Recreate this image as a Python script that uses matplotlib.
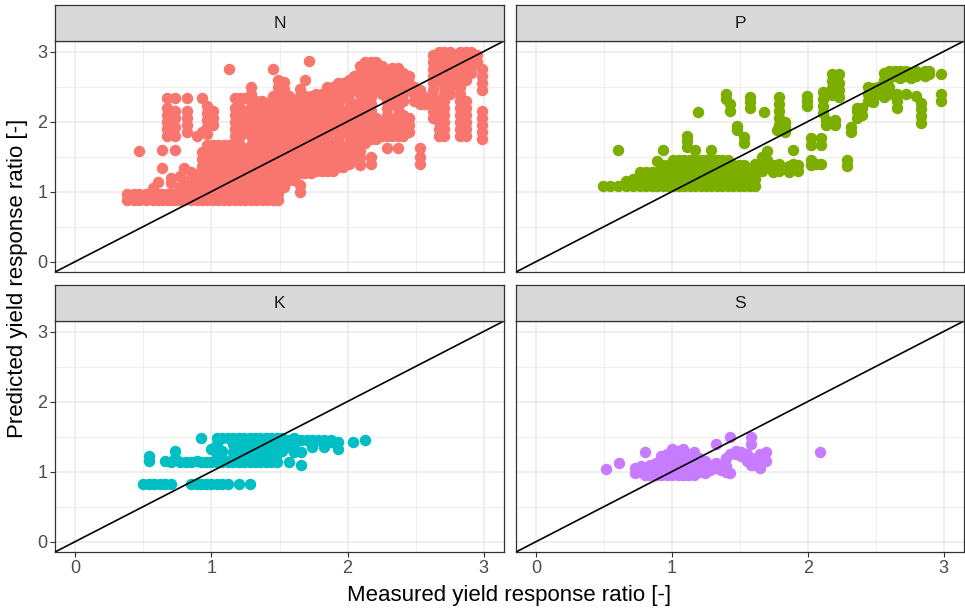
import matplotlib
matplotlib.use("Agg")
import matplotlib.pyplot as plt

plt.rcParams['font.family'] = ['Liberation Sans', 'DejaVu Sans']

panels = ["N", "P", "K", "S"]
colors = ["#F8766D", "#7CAE00", "#00BFC4", "#C77CFF"]
ticks = [0, 1, 2, 3]
tick_labels = ["0", "1", "2", "3"]
x_title = "Measured yield response ratio [-]"
y_title = "Predicted yield response ratio [-]"

# ---- N panel: measured (x) columns and predicted (y) values ----
N_x = [0.38, 0.43, 0.47, 0.52, 0.57, 0.61, 0.64, 0.67, 0.70, 0.73, 0.77, 0.80, 0.82, 0.85, 0.89,
       0.93, 0.97, 1.01, 1.05, 1.09, 1.13, 1.17, 1.21, 1.25, 1.29, 1.33, 1.37, 1.41, 1.45, 1.49,
       1.53, 1.57, 1.61, 1.65, 1.69, 1.72, 1.73, 1.77, 1.81, 1.85, 1.89, 1.93, 1.97, 2.01, 2.05,
       2.09, 2.13, 2.17, 2.21, 2.25, 2.29, 2.33, 2.37, 2.41, 2.45, 2.49, 2.53, 2.57, 2.63, 2.67,
       2.71, 2.75, 2.79, 2.83, 2.87, 2.91, 2.95, 2.99]
N_y = [
    [0.88, 0.97],
    [0.88, 0.97],
    [0.88, 0.97, 1.58],
    [0.88, 0.97],
    [0.88, 0.97, 1.05],
    [0.88, 0.97, 1.13],
    [0.88, 0.97, 1.33, 1.60],
    [0.88, 0.97, 1.80, 1.90, 2.00, 2.10, 2.20, 2.33],
    [0.88, 0.97, 1.12, 1.20],
    [0.88, 0.97, 1.60, 1.80, 1.92, 2.05, 2.15, 2.33],
    [0.88, 0.97, 1.07, 1.22],
    [0.88, 0.97, 1.13, 1.33],
    [1.85, 1.95, 2.05, 2.15, 2.33],
    [0.88, 0.97, 1.07, 1.18, 1.28],
    [0.88, 0.97, 1.05, 1.15, 1.25, 1.80],
    [0.88, 0.97, 1.07, 1.17, 1.27, 1.37, 1.47, 1.57, 1.85, 2.33],
    [0.88, 0.97, 1.07, 1.17, 1.27, 1.37, 1.47, 1.57, 1.66, 1.82, 1.92, 2.02, 2.12, 2.22],
    [0.88, 0.97, 1.07, 1.17, 1.27, 1.37, 1.47, 1.57, 1.66, 1.95, 2.05, 2.15],
    [0.88, 0.97, 1.07, 1.17, 1.27, 1.37, 1.47, 1.57, 1.66],
    [0.88, 0.97, 1.07, 1.17, 1.27, 1.37, 1.47, 1.57, 1.66],
    [0.88, 0.97, 1.07, 1.17, 1.27, 1.37, 1.47, 1.57, 1.66, 2.75],
    [0.88, 0.97, 1.07, 1.17, 1.27, 1.37, 1.47, 1.57, 1.66, 1.80, 1.90, 2.00, 2.10, 2.20, 2.33],
    [0.88, 0.97, 1.07, 1.17, 1.27, 1.37, 1.47, 1.57, 1.66, 1.80, 1.90, 2.00, 2.10, 2.20, 2.33],
    [0.88, 0.97, 1.07, 1.17, 1.27, 1.37, 1.47, 1.57, 1.85, 1.95, 2.05, 2.15, 2.33],
    [0.88, 0.97, 1.07, 1.17, 1.27, 1.37, 1.47, 1.57, 1.66, 1.80, 1.90, 2.00, 2.10, 2.20, 2.30, 2.40, 2.50],
    [0.88, 0.97, 1.07, 1.17, 1.27, 1.37, 1.47, 1.57, 1.66, 1.80, 1.90, 2.00, 2.10, 2.20, 2.30],
    [0.88, 0.97, 1.07, 1.17, 1.27, 1.37, 1.47, 1.57, 1.66, 1.80, 1.90, 2.00, 2.10, 2.20, 2.30],
    [0.88, 0.97, 1.07, 1.17, 1.27, 1.37, 1.47, 1.57, 1.66, 1.76, 1.86, 1.96, 2.06, 2.16, 2.26],
    [0.88, 0.97, 1.07, 1.17, 1.27, 1.37, 1.47, 1.57, 1.66, 1.76, 1.86, 1.96, 2.06, 2.16, 2.26, 2.36, 2.75],
    [0.88, 0.97, 1.07, 1.17, 1.27, 1.37, 1.47, 1.57, 1.66, 1.80, 1.90, 2.00, 2.10, 2.20, 2.30, 2.40, 2.50, 2.60],
    [1.07, 1.17, 1.27, 1.37, 1.47, 1.57, 1.66, 1.76, 1.86, 1.96, 2.06, 2.16, 2.26, 2.36, 2.46, 2.56],
    [1.17, 1.27, 1.37, 1.47, 1.57, 1.66, 1.76, 1.86, 1.96, 2.06, 2.16, 2.26, 2.36],
    [1.17, 1.27, 1.37, 1.47, 1.57, 1.66, 1.76, 1.86, 1.96, 2.06, 2.16, 2.26],
    [1.00, 1.10, 1.27, 1.37, 1.47, 1.57, 1.66, 1.76, 1.86, 1.96, 2.06, 2.16, 2.26, 2.36, 2.46],
    [1.27, 1.37, 1.47, 1.57, 1.66, 1.76, 1.86, 1.96, 2.06, 2.16, 2.26, 2.36, 2.60],
    [2.87],
    [1.27, 1.37, 1.47, 1.57, 1.66, 1.76, 1.86, 1.96, 2.06, 2.16, 2.26, 2.36],
    [1.30, 1.40, 1.50, 1.60, 1.70, 1.80, 1.90, 2.00, 2.10, 2.20, 2.30, 2.40],
    [1.30, 1.40, 1.50, 1.60, 1.80, 1.90, 2.00, 2.10, 2.20, 2.30, 2.40],
    [1.30, 1.40, 1.50, 1.60, 1.70, 1.80, 1.90, 2.00, 2.20, 2.30, 2.40, 2.50],
    [1.30, 1.40, 1.50, 1.60, 1.70, 1.90, 2.00, 2.10, 2.20, 2.30, 2.40, 2.50],
    [1.35, 1.45, 1.55, 1.65, 1.75, 1.85, 1.95, 2.05, 2.15, 2.25, 2.35, 2.45, 2.55],
    [1.35, 1.45, 1.55, 1.65, 1.85, 1.95, 2.05, 2.15, 2.35, 2.45, 2.55],
    [1.40, 1.50, 1.60, 1.70, 1.80, 1.90, 2.00, 2.10, 2.20, 2.30, 2.40, 2.50, 2.60],
    [1.45, 1.55, 1.65, 1.75, 1.85, 1.95, 2.05, 2.15, 2.25, 2.45, 2.55, 2.65],
    [1.38, 1.48, 1.58, 1.70, 1.80, 1.90, 2.00, 2.10, 2.20, 2.30, 2.40, 2.50, 2.60, 2.70, 2.80],
    [1.70, 1.80, 1.90, 2.00, 2.10, 2.20, 2.30, 2.40, 2.50, 2.60, 2.70, 2.85],
    [1.40, 1.50, 1.75, 1.85, 1.95, 2.05, 2.15, 2.25, 2.35, 2.45, 2.55, 2.65, 2.75, 2.85],
    [1.75, 1.85, 1.95, 2.05, 2.45, 2.55, 2.65, 2.75, 2.85],
    [1.80, 1.90, 2.00, 2.40, 2.50, 2.60, 2.70, 2.80],
    [1.62, 1.80, 1.90, 2.00, 2.10, 2.20, 2.30, 2.50, 2.60],
    [1.80, 1.90, 2.00, 2.30, 2.40, 2.50, 2.60, 2.70, 2.76],
    [1.62, 1.80, 1.90, 2.10, 2.20, 2.40, 2.50, 2.60, 2.70, 2.76],
    [1.80, 1.90, 2.00, 2.10, 2.30, 2.40, 2.50, 2.60, 2.70],
    [1.85, 1.95, 2.05, 2.45, 2.55, 2.65],
    [2.30, 2.40, 2.50],
    [1.40, 1.50, 1.62, 2.25, 2.35, 2.45],
    [2.25, 2.35],
    [2.05, 2.15, 2.25, 2.35, 2.45, 2.55, 2.65, 2.75, 2.85, 2.95],
    [1.80, 1.90, 2.00, 2.10, 2.20, 2.30, 2.60, 2.70, 2.80, 2.90, 3.00],
    [1.80, 1.90, 2.00, 2.10, 2.20, 2.30, 2.40, 2.50, 2.60, 2.70, 2.80, 2.90, 3.00],
    [2.40, 2.50, 2.60, 2.70, 2.80, 2.90, 3.00],
    [2.55, 2.65, 2.75, 2.85, 2.95],
    [1.80, 1.90, 2.00, 2.10, 2.20, 2.30, 2.40, 2.50, 2.60, 2.70, 2.80, 2.90, 3.00],
    [1.80, 1.90, 2.00, 2.10, 2.20, 2.30, 2.60, 2.70, 2.80, 2.90, 3.00],
    [2.70, 2.80, 2.90, 3.00],
    [2.85, 2.95],
    [1.75, 1.85, 1.95, 2.05, 2.15, 2.45, 2.55, 2.65, 2.75],
]

# ---- P panel ----
P_x = [0.49, 0.54, 0.60, 0.66, 0.71, 0.76, 0.81, 0.85, 0.89, 0.93, 0.97, 1.01, 1.05, 1.09, 1.11,
       1.13, 1.17, 1.19, 1.21, 1.25, 1.29, 1.33, 1.37, 1.40, 1.41, 1.43, 1.45, 1.48, 1.49, 1.53,
       1.57, 1.61, 1.66, 1.68, 1.70, 1.74, 1.77, 1.79, 1.83, 1.86, 1.89, 1.93, 1.99, 2.02, 2.06,
       2.10, 2.11, 2.13, 2.18, 2.20, 2.23, 2.29, 2.32, 2.36, 2.40, 2.44, 2.48, 2.52, 2.56, 2.60,
       2.64, 2.66, 2.68, 2.72, 2.76, 2.80, 2.83, 2.86, 2.89, 2.98]
P_y = [
    [1.08], [1.08], [1.08, 1.60], [1.08, 1.15], [1.08, 1.18], [1.08, 1.18, 1.28],
    [1.08, 1.18, 1.28], [1.08, 1.18, 1.28], [1.08, 1.18, 1.28, 1.43],
    [1.08, 1.18, 1.28, 1.38, 1.60], [1.08, 1.18, 1.28, 1.38], [1.08, 1.18, 1.28, 1.38, 1.45],
    [1.08, 1.18, 1.28, 1.38, 1.45], [1.08, 1.18, 1.28, 1.38, 1.45], [1.64, 1.72, 1.79],
    [1.08, 1.18, 1.28, 1.38, 1.45], [1.08, 1.18, 1.28, 1.38, 1.45, 1.60], [2.14],
    [1.08, 1.18, 1.28, 1.38, 1.45], [1.08, 1.18, 1.28, 1.38, 1.45],
    [1.08, 1.18, 1.28, 1.38, 1.45, 1.60], [1.08, 1.18, 1.28, 1.38, 1.45],
    [1.08, 1.18, 1.28, 1.38, 1.45], [2.32, 2.40], [1.08, 1.18, 1.28, 1.38, 1.45],
    [2.15, 2.25], [1.08, 1.18, 1.28, 1.38], [1.88, 1.93], [1.08, 1.18, 1.28, 1.38],
    [1.08, 1.18, 1.28, 1.38, 1.70, 1.78], [1.08, 1.18, 1.28, 2.20, 2.28, 2.35],
    [1.08, 1.18, 1.28, 1.40], [1.30, 1.40, 1.50], [2.14, 1.45], [1.35, 1.45, 1.58],
    [1.28, 1.38], [1.88], [1.30, 1.40, 1.95, 2.05, 2.15, 2.25, 2.35], [1.85, 1.92, 2.00],
    [1.28, 1.36], [1.40, 1.60], [1.30, 1.38], [2.22, 2.30, 2.36], [1.38, 1.45, 1.66, 1.76],
    [1.40], [1.40, 1.66, 1.76], [2.12, 2.22, 2.32, 2.42], [1.95, 2.02],
    [2.38, 2.48, 2.58, 2.68], [1.95, 2.02], [2.35, 2.45, 2.55, 2.68], [1.36, 1.45],
    [1.85, 1.92], [2.05, 2.15, 2.20], [2.10, 2.20], [2.30, 2.40, 2.50], [2.28, 2.38, 2.48],
    [2.40, 2.50], [2.35, 2.45, 2.60, 2.70], [2.40, 2.50, 2.62, 2.72], [2.65, 2.72],
    [2.20, 2.30, 2.40], [2.62, 2.72], [2.40, 2.65, 2.72], [2.62, 2.70], [2.36, 2.65, 2.72],
    [1.98, 2.08, 2.18, 2.26], [2.65, 2.72], [2.68, 2.72], [2.30, 2.40, 2.68],
]

# ---- K panel ----
K_x = [0.50, 0.54, 0.58, 0.62, 0.66, 0.70, 0.73, 0.77, 0.81, 0.85, 0.89, 0.92, 0.96, 1.00, 1.04,
       1.08, 1.12, 1.16, 1.20, 1.24, 1.28, 1.32, 1.36, 1.40, 1.44, 1.48, 1.52, 1.57, 1.61, 1.66,
       1.70, 1.74, 1.78, 1.83, 1.88, 1.93, 2.04, 2.13]
K_y = [
    [0.82], [0.82, 1.15, 1.22], [0.82], [0.82], [0.82, 1.15], [0.82, 1.13], [1.20, 1.30],
    [1.13], [1.13], [0.82, 1.13], [0.82, 1.15], [0.82, 1.13, 1.48], [0.82, 1.13],
    [0.82, 1.13, 1.32], [0.82, 1.13, 1.25, 1.40, 1.48], [0.82, 1.13, 1.20, 1.30, 1.48],
    [0.82, 1.13, 1.48], [1.13, 1.20, 1.28, 1.40, 1.48], [0.82, 1.13, 1.25, 1.35, 1.48],
    [1.13, 1.22, 1.32, 1.42, 1.48], [0.82, 1.13, 1.22, 1.32, 1.42, 1.48],
    [1.13, 1.22, 1.32, 1.42, 1.48], [1.13, 1.22, 1.32, 1.42, 1.48],
    [1.13, 1.22, 1.32, 1.42, 1.48], [1.13, 1.22, 1.32, 1.42, 1.48], [1.13, 1.25, 1.35, 1.48],
    [1.30, 1.40, 1.48], [1.13, 1.35, 1.45], [1.28, 1.40, 1.48], [1.10, 1.28, 1.45], [1.45],
    [1.35, 1.45], [1.45], [1.35, 1.45], [1.42, 1.45], [1.32, 1.42], [1.42], [1.45],
]

# ---- S panel ----
S_x = [0.51, 0.61, 0.73, 0.77, 0.80, 0.84, 0.88, 0.92, 0.96, 1.00, 1.04, 1.08, 1.12, 1.16, 1.20,
       1.24, 1.28, 1.32, 1.36, 1.40, 1.43, 1.47, 1.51, 1.55, 1.58, 1.62, 1.65, 1.69, 2.09]
S_y = [
    [1.04], [1.12], [0.98, 1.05], [1.00, 1.08], [0.95, 1.05, 1.28], [0.95, 1.02, 1.10],
    [0.95, 1.05, 1.12], [0.95, 1.02, 1.12, 1.22], [0.95, 1.05, 1.15, 1.25],
    [0.95, 1.05, 1.15, 1.25, 1.32], [0.95, 1.05, 1.15, 1.25, 1.30],
    [0.95, 1.05, 1.15, 1.25, 1.32], [0.95, 1.05, 1.15, 1.25], [0.95, 1.05, 1.15, 1.28],
    [1.00, 1.10, 1.20], [0.98, 1.08, 1.15], [1.02, 1.10], [1.05, 1.12, 1.40], [1.02, 1.10],
    [1.00, 1.08, 1.20], [0.98, 1.25, 1.50], [1.25, 1.30], [1.22, 1.28], [1.15, 1.25],
    [1.10, 1.40, 1.50], [1.10, 1.20], [1.05, 1.15, 1.25], [1.15, 1.28], [1.28],
]

data = {"N": (N_x, N_y), "P": (P_x, P_y), "K": (K_x, K_y), "S": (S_x, S_y)}

W, H = 965, 611
fig = plt.figure(figsize=(W / 100, H / 100), dpi=100)


def box(l, t, r, b):
    return [l / W, 1 - b / H, (r - l) / W, (b - t) / H]


cols = [(55, 504), (516, 964)]
rows = [(5, 41, 272), (285, 321, 552)]
lim = (-0.15, 3.15)
border = "#333333"

for i, name in enumerate(panels):
    r, c = divmod(i, 2)
    l, rr = cols[c]
    st, pt, pb = rows[r]
    ax = fig.add_axes(box(l, pt, rr, pb))
    sax = fig.add_axes(box(l, st, rr, pt))
    # strip
    sax.set_facecolor("#D9D9D9")
    sax.set_xticks([])
    sax.set_yticks([])
    for sp in sax.spines.values():
        sp.set_color(border)
        sp.set_linewidth(0.9)
    sax.text(0.5, 0.5, name, ha="center", va="center", fontsize=12.5, color="#1A1A1A",
             transform=sax.transAxes)
    # panel
    ax.set_xlim(lim)
    ax.set_ylim(lim)
    ax.set_xticks(ticks)
    ax.set_yticks(ticks)
    ax.set_xticks([0.5, 1.5, 2.5], minor=True)
    ax.set_yticks([0.5, 1.5, 2.5], minor=True)
    ax.grid(True, which="major", color="#EBEBEB", linewidth=1.1, zorder=0)
    ax.grid(True, which="minor", color="#EBEBEB", linewidth=0.55, zorder=0)
    ax.set_axisbelow(True)
    ax.tick_params(which="minor", length=0)
    ax.tick_params(which="major", length=3.5, width=0.8, color=border, labelsize=13,
                   labelcolor="#4D4D4D", pad=2)
    if c == 0:
        ax.set_yticklabels(tick_labels)
    else:
        ax.tick_params(axis="y", which="major", left=False, labelleft=False)
    if r == 1:
        ax.set_xticklabels(tick_labels)
    else:
        ax.tick_params(axis="x", which="major", bottom=False, labelbottom=False)
    for sp in ax.spines.values():
        sp.set_color(border)
        sp.set_linewidth(0.9)
    xs_c, ys_c = data[name]
    px = [x for x, ys in zip(xs_c, ys_c) for _ in ys]
    py = [y for ys in ys_c for y in ys]
    ax.scatter(px, py, s=68, color=colors[i], linewidths=0, zorder=2)
    ax.axline((0, 0), slope=1, color="black", linewidth=1.2, zorder=3)

fig.text(509.5 / W, 1 - 596 / H, x_title, ha="center", va="center", fontsize=16, color="black")
fig.text(18 / W, 1 - 278 / H, y_title, ha="center", va="center", rotation=90, fontsize=16,
         color="black")

fig.savefig("out.png", dpi=100)
